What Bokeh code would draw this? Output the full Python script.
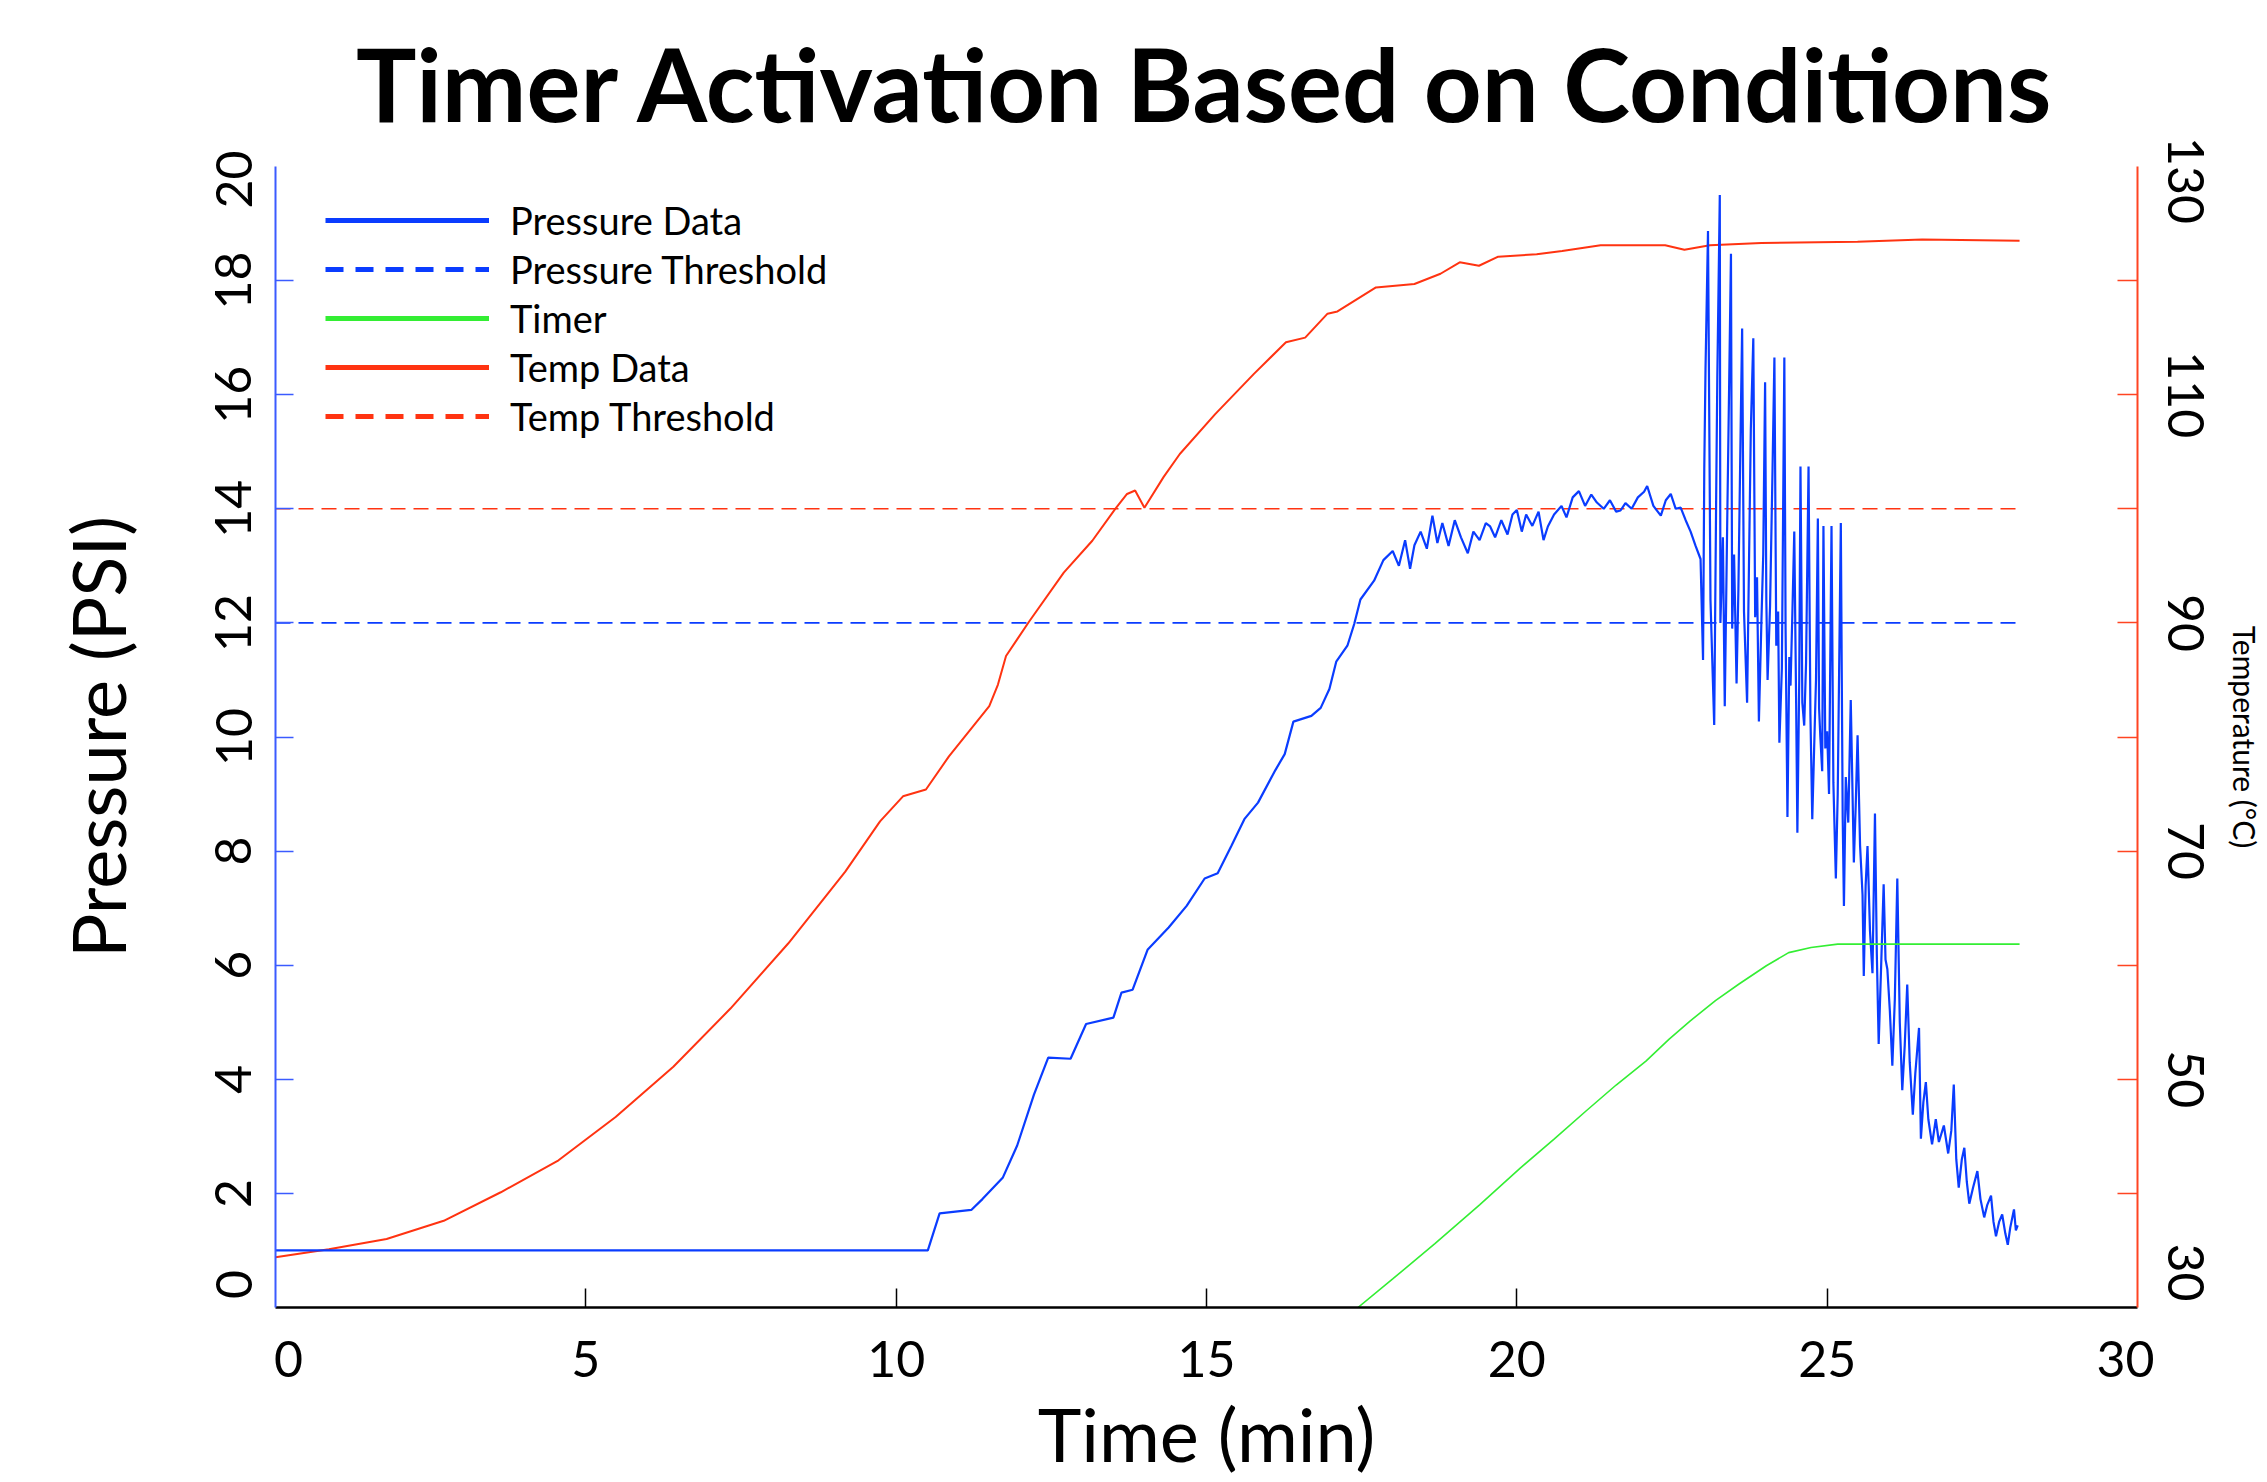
import math
from bokeh.plotting import figure
from bokeh.models import (Range1d, LinearAxis, FixedTicker, Legend, LegendItem,
                          CustomJSTickFormatter)
from bokeh.embed import file_html
from bokeh.resources import INLINE

FONT = "Lato"

# ---------------- data ----------------
pressure_time = [
    0.00, 10.51, 10.70, 11.21, 11.39, 11.72, 11.95, 12.22, 12.45, 12.81, 13.06, 13.50,
    13.63, 13.81, 14.05, 14.39, 14.68, 14.97, 15.18, 15.40, 15.61, 15.83, 16.11, 16.26,
    16.40, 16.69, 16.84, 16.98, 17.09, 17.27, 17.38, 17.48, 17.70, 17.85,
    18.00, 18.10, 18.20, 18.28, 18.35, 18.45, 18.55, 18.64, 18.72, 18.80, 18.90, 19.00,
    19.10, 19.21, 19.30, 19.40, 19.50, 19.57, 19.65, 19.75, 19.85, 19.93, 20.00, 20.08,
    20.15, 20.25, 20.35, 20.43, 20.50, 20.60, 20.72, 20.80, 20.90, 21.00, 21.10, 21.20,
    21.29, 21.40, 21.50, 21.60, 21.67, 21.75, 21.85, 21.95, 22.05, 22.10, 22.20, 22.32,
    22.40, 22.48, 22.56, 22.64, 22.72, 22.80, 22.88, 22.96,
    23.00, 23.02, 23.04, 23.08, 23.12, 23.18, 23.21, 23.23, 23.27, 23.28, 23.32, 23.35,
    23.39, 23.42, 23.45, 23.47, 23.50, 23.54, 23.57, 23.61, 23.63, 23.66, 23.71, 23.74,
    23.77, 23.81, 23.84, 23.87, 23.90, 23.94, 23.97, 24.00, 24.02, 24.04, 24.08, 24.12,
    24.15, 24.18, 24.21, 24.23, 24.27, 24.31, 24.33, 24.36, 24.39, 24.41, 24.44, 24.47,
    24.50, 24.52, 24.55, 24.57, 24.60, 24.63, 24.66, 24.70, 24.73, 24.76, 24.79, 24.82,
    24.85, 24.87, 24.89, 24.92, 24.94, 24.97, 25.00, 25.03, 25.07, 25.10, 25.14, 25.17,
    25.22, 25.25, 25.27, 25.30, 25.34, 25.38, 25.43, 25.46, 25.49, 25.53, 25.57, 25.59,
    25.62, 25.65, 25.69, 25.73, 25.77, 25.80, 25.83, 25.87, 25.91, 25.94, 25.97, 26.01,
    26.05, 26.09, 26.13, 26.17, 26.21, 26.25, 26.29, 26.33, 26.38, 26.42, 26.48, 26.51,
    26.55, 26.59, 26.63, 26.69, 26.75, 26.80, 26.88, 26.95, 27.00, 27.04, 27.08, 27.12,
    27.17, 27.21, 27.25, 27.29, 27.35, 27.42, 27.47, 27.53, 27.58, 27.64, 27.68, 27.72,
    27.77, 27.82, 27.87, 27.91, 27.95, 28.01, 28.04, 28.07,
]
pressure_psi = [
    1.00, 1.00, 1.65, 1.71, 1.90, 2.28, 2.84, 3.73, 4.38, 4.36, 4.97, 5.08,
    5.52, 5.57, 6.27, 6.66, 7.04, 7.52, 7.61, 8.09, 8.56, 8.85, 9.42, 9.70,
    10.27, 10.37, 10.51, 10.84, 11.32, 11.60, 11.98, 12.41, 12.74, 13.10,
    13.26, 13.00, 13.45, 12.95, 13.36, 13.60, 13.30, 13.88, 13.40, 13.75, 13.35, 13.80,
    13.50, 13.22, 13.60, 13.45, 13.75, 13.69, 13.50, 13.80, 13.55, 13.90, 13.98, 13.60,
    13.90, 13.70, 13.95, 13.45, 13.69, 13.90, 14.05, 13.85, 14.20, 14.31, 14.05, 14.25,
    14.11, 14.00, 14.15, 13.95, 13.97, 14.10, 14.00, 14.20, 14.30, 14.40, 14.05, 13.88,
    14.15, 14.26, 14.00, 14.02, 13.80, 13.60, 13.35, 13.12,
    11.35, 14.70, 16.45, 18.87, 12.40, 10.21, 14.00, 16.30, 19.50, 12.00, 13.50, 10.54,
    13.80, 16.12, 18.47, 11.90, 13.20, 10.94, 12.60, 15.71, 17.16, 12.20, 10.60, 13.00,
    15.40, 16.99, 12.10, 12.80, 10.27, 12.00, 13.20, 16.22, 12.40, 11.00, 12.30, 14.70,
    16.65, 11.60, 12.20, 9.90, 11.20, 16.65, 11.90, 8.60, 11.40, 10.90, 12.20, 13.60,
    10.60, 8.32, 11.00, 14.74, 10.60, 10.20, 11.30, 14.74, 10.40, 8.56, 9.80, 11.00,
    13.83, 10.50, 10.00, 9.40, 13.70, 9.80, 10.10, 9.00, 13.70, 9.20, 7.52, 9.00,
    13.75, 8.60, 7.04, 9.30, 8.50, 10.65, 7.80, 8.80, 10.03, 8.10, 7.23, 5.81,
    7.40, 8.09, 6.60, 5.86, 8.66, 6.20, 4.62, 6.00, 7.42, 6.10, 5.93, 5.20,
    4.24, 5.40, 7.52, 5.00, 3.81, 4.60, 5.66, 4.30, 3.38, 4.10, 4.90, 2.96,
    3.60, 3.95, 3.30, 2.86, 3.30, 2.90, 3.19, 2.70, 3.10, 3.91, 2.60, 2.10,
    2.60, 2.80, 2.20, 1.82, 2.10, 2.39, 1.90, 1.58, 1.80, 1.96, 1.50, 1.25,
    1.50, 1.63, 1.30, 1.10, 1.40, 1.72, 1.35, 1.44,
]

temp_time = [
    0.00, 0.86, 1.79, 2.71, 3.63, 4.56, 5.48, 6.41, 7.33, 8.26, 9.18, 9.74,
    10.11, 10.48, 10.85, 11.50, 11.64, 11.77, 12.14, 12.70, 13.16, 13.53, 13.72, 13.85,
    14.00, 14.31, 14.57, 15.14, 15.76, 16.28, 16.59, 16.95, 17.11, 17.73, 18.35, 18.77,
    19.08, 19.39, 19.70, 20.32, 20.73, 21.35, 22.39, 22.70, 23.11, 23.94, 25.49, 26.53,
    28.10,
]
temp_c = [
    34.4, 35.1, 36.0, 37.6, 40.1, 42.9, 46.7, 51.1, 56.2, 61.9, 68.2, 72.6,
    74.8, 75.4, 78.3, 82.7, 84.6, 87.1, 90.1, 94.4, 97.2, 100.0, 101.3, 101.6,
    100.1, 102.8, 104.8, 108.3, 111.8, 114.6, 115.0, 117.1, 117.3, 119.4, 119.7, 120.6,
    121.6, 121.3, 122.1, 122.3, 122.6, 123.1, 123.1, 122.7, 123.1, 123.3, 123.4, 123.6,
    123.5,
]

timer_time = [17.44, 18.00, 18.68, 19.40, 20.05, 20.60, 21.11, 21.60, 22.08, 22.45,
              22.79, 23.20, 23.58, 24.02, 24.38, 24.74, 25.17, 25.60, 28.10]
timer_val = [0.00, 0.50, 1.12, 1.80, 2.44, 2.95, 3.44, 3.90, 4.32, 4.70,
             5.02, 5.38, 5.67, 5.99, 6.22, 6.31, 6.37, 6.37, 6.37]

pressure_threshold = 12
temp_threshold = 100

x_ticks = [0, 5, 10, 15, 20, 25, 30]
psi_ticks = [0, 2, 4, 6, 8, 10, 12, 14, 16, 18, 20]
temp_ticks = [30, 50, 70, 90, 110, 130]
temp_minor_ticks = [40, 60, 80, 100, 120]

series_names = ["Pressure Data", "Pressure Threshold", "Timer", "Temp Data", "Temp Threshold"]

BLUE = "#0a3cff"
RED = "#ff3311"
GREEN = "#33ee33"

# ---------------- layout ----------------
W, H = 2267, 1482
BL, BR, BT, BB = 275, 130, 166, 175
FW, FH = W - BL - BR, H - BT - BB
X0, X1 = 0, 30
Y0, Y1 = 0, 20
T0, T1 = 30, 130


def nudged(ticks, lo_px, hi_px, span, size_px):
    """Label anchor positions: end labels pulled inside the axis, as in the original."""
    pos = [float(t) for t in ticks]
    pos[0] += lo_px * span / size_px
    pos[-1] -= hi_px * span / size_px
    return pos


def labels_formatter(ticks):
    return CustomJSTickFormatter(args=dict(labels=[str(t) for t in ticks]),
                                 code="return labels[index];")


p = figure(width=W, height=H, output_backend="svg", toolbar_location=None,
           x_range=Range1d(X0, X1), y_range=Range1d(Y0, Y1),
           min_border_left=BL, min_border_right=BR,
           min_border_top=BT, min_border_bottom=BB)
p.extra_y_ranges = {"temp": Range1d(T0, T1)}
p.grid.visible = False
p.outline_line_color = None
p.background_fill_color = "white"

p.title.text = "Timer Activation Based on Conditions"
p.title.text_font = FONT
p.title.text_font_size = "101px"
p.title.text_font_style = "bold"
p.title.text_color = "black"
p.title.align = "center"
p.title.vertical_align = "top"
p.title.standoff = 41

# x axis: tick marks drawn as "minor" ticks, labels placed on the major positions
xa = p.below[0]
xa.ticker = FixedTicker(ticks=nudged(x_ticks, 13, 12, X1 - X0, FW), minor_ticks=x_ticks[1:-1])
xa.formatter = labels_formatter(x_ticks)
xa.axis_line_color = "black"
xa.axis_line_width = 2.5
xa.major_tick_line_color = None
xa.minor_tick_in = 19
xa.minor_tick_out = 0
xa.minor_tick_line_color = "black"
xa.minor_tick_line_width = 1.5
xa.major_label_text_font = FONT
xa.major_label_text_font_size = "50px"
xa.major_label_text_color = "black"
xa.major_label_standoff = 27
xa.axis_label = "Time (min)"
xa.axis_label_text_font = FONT
xa.axis_label_text_font_size = "74px"
xa.axis_label_text_font_style = "normal"
xa.axis_label_text_color = "black"
xa.axis_label_standoff = 9

# left axis
ya = p.left[0]
ya.ticker = FixedTicker(ticks=nudged(psi_ticks, 23, 13, Y1 - Y0, FH), minor_ticks=psi_ticks[1:-1])
ya.formatter = labels_formatter(psi_ticks)
ya.axis_line_color = "#3b5bff"
ya.axis_line_width = 2
ya.major_tick_line_color = None
ya.minor_tick_in = 18
ya.minor_tick_out = 0
ya.minor_tick_line_color = "#3b5bff"
ya.minor_tick_line_width = 1.5
ya.major_label_text_font = FONT
ya.major_label_text_font_size = "50px"
ya.major_label_text_color = "black"
ya.major_label_orientation = "parallel"
ya.major_label_standoff = 18
ya.axis_label = "Pressure (PSI)"
ya.axis_label_text_font = FONT
ya.axis_label_text_font_size = "74px"
ya.axis_label_text_font_style = "normal"
ya.axis_label_text_color = "black"
ya.axis_label_standoff = 71

# right axis
ra = LinearAxis(y_range_name="temp",
                ticker=FixedTicker(ticks=nudged(temp_ticks, 35, 14, T1 - T0, FH),
                                   minor_ticks=sorted(temp_minor_ticks + temp_ticks[1:-1])),
                formatter=labels_formatter(temp_ticks))
ra.axis_line_color = "#ff4422"
ra.axis_line_width = 2
ra.major_tick_line_color = None
ra.minor_tick_in = 20
ra.minor_tick_out = 0
ra.minor_tick_line_color = "#ff4422"
ra.minor_tick_line_width = 1.5
ra.major_label_text_font = FONT
ra.major_label_text_font_size = "50px"
ra.major_label_text_color = "black"
ra.major_label_orientation = "parallel"
ra.major_label_standoff = 24
ra.axis_label = "Temperature (°C)"
ra.axis_label_text_font = FONT
ra.axis_label_text_font_size = "30px"
ra.axis_label_text_font_style = "normal"
ra.axis_label_text_color = "black"
ra.axis_label_standoff = 20
p.add_layout(ra, "right")

# ---------------- data lines ----------------
t0, t1 = pressure_time[0], pressure_time[-1]
r_temp = p.line(temp_time, temp_c, y_range_name="temp", line_color=RED, line_width=2)
r_tth = p.line([t0, t1], [temp_threshold, temp_threshold], y_range_name="temp",
               line_color=RED, line_width=1.6, line_dash="15 8")
r_pth = p.line([t0, t1], [pressure_threshold, pressure_threshold],
               line_color=BLUE, line_width=1.6, line_dash="15 8")
r_p = p.line(pressure_time, pressure_psi, line_color=BLUE, line_width=2.2)
r_tm = p.line(timer_time, timer_val, line_color=GREEN, line_width=1.6)

# legend swatches (thicker strokes, as in the chart's key); NaN = nothing drawn in the plot
nan = [float("nan")]
sw = [
    p.line(nan, nan, line_color=BLUE, line_width=5),
    p.line(nan, nan, line_color=BLUE, line_width=5, line_dash="18 12"),
    p.line(nan, nan, line_color=GREEN, line_width=5),
    p.line(nan, nan, line_color=RED, line_width=5),
    p.line(nan, nan, line_color=RED, line_width=5, line_dash="18 12"),
]
legend = Legend(items=[LegendItem(label=n, renderers=[r]) for n, r in zip(series_names, sw)],
                location=(50, 868), padding=0, margin=0, spacing=3,
                glyph_width=164, glyph_height=40, label_height=40, label_standoff=21,
                label_text_font=FONT, label_text_font_size="38px", label_text_color="black",
                border_line_alpha=0, background_fill_alpha=0)
p.add_layout(legend, "center")

open("out.html", "w").write(file_html(p, INLINE))
